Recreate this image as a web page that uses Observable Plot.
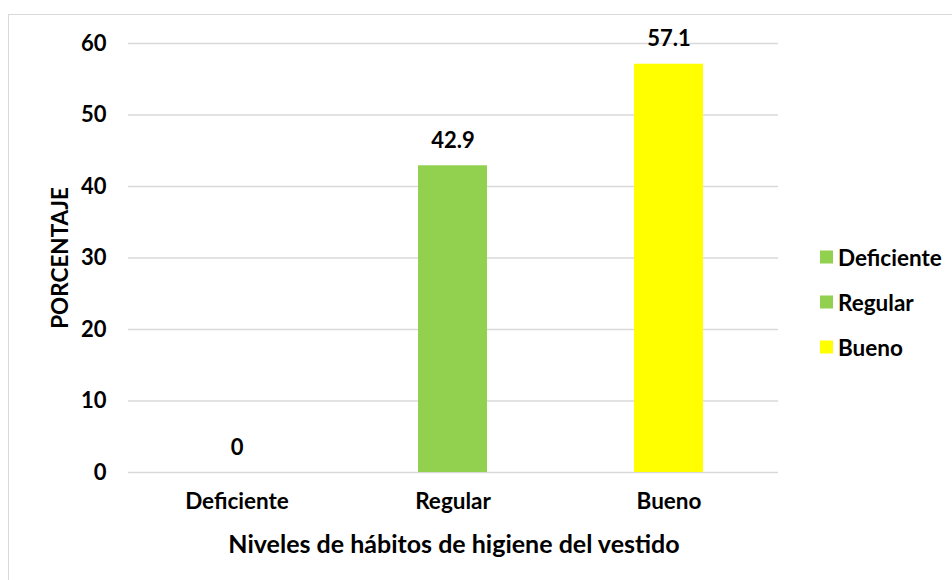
<!DOCTYPE html>
<html>
<head>
<meta charset="utf-8">
<script src="https://cdn.jsdelivr.net/npm/d3@7"></script>
<script src="https://cdn.jsdelivr.net/npm/@observablehq/plot@0.6"></script>
<style>
  html, body { margin: 0; padding: 0; background: #fff; }
  #wrap { position: relative; width: 952px; height: 580px; overflow: hidden; font-family: Lato, "Open Sans", sans-serif; font-weight: bold; color: #000; }
  #frame { position: absolute; left: 8px; top: 14px; width: 1000px; height: 1000px; border: 1.5px solid #d9d9d9; box-sizing: border-box; }
  #chart { position: absolute; left: 0; top: 0; }
  .ytitle { position: absolute; left: 59px; top: 258px; transform: translate(-50%, -50%) rotate(-90deg); font-size: 22.5px; white-space: nowrap; }
  .xtitle { position: absolute; left: 454px; top: 543px; transform: translate(-50%, -50%); font-size: 25px; white-space: nowrap; }
  #legend { position: absolute; left: 820px; top: 0; }
  .item { position: absolute; left: 0; display: flex; align-items: center; white-space: nowrap; font-size: 22.5px; transform: translateY(-50%); }
  .sw { width: 13px; height: 13px; margin-right: 5px; }
</style>
</head>
<body>
<div id="wrap">
  <div id="frame"></div>
  <div id="chart"></div>
  <div class="ytitle">PORCENTAJE</div>
  <div class="xtitle">Niveles de hábitos de higiene del vestido</div>
  <div id="legend"></div>
</div>
<script>
const categories = ["Deficiente", "Regular", "Bueno"];
const values = [0, 42.9, 57.1];
const colors = ["#92D050", "#92D050", "#FFFF00"];
const yTicks = [0, 10, 20, 30, 40, 50, 60];
const labels = ["0", "42.9", "57.1"];

const data = categories.map((c, i) => ({category: c, value: values[i], label: labels[i]}));

const plot = Plot.plot({
  width: 952,
  height: 580,
  marginLeft: 128,
  marginRight: 174,
  marginTop: 43,
  marginBottom: 108,
  style: {fontFamily: "Lato, 'Open Sans', sans-serif", fontWeight: "bold", fontSize: "22px", color: "#000", background: "transparent", overflow: "visible"},
  x: {domain: categories, paddingInner: 0.68, paddingOuter: 0.34, label: null},
  y: {domain: [0, 60], label: null},
  color: {domain: categories, range: colors},
  marks: [
    Plot.gridY(yTicks, {stroke: "#d9d9d9", strokeOpacity: 1, strokeWidth: 1.5}),
    Plot.barY(data, {x: "category", y: "value", fill: "category"}),
    Plot.text(data, {x: "category", y: "value", text: "label", dy: -25, fontSize: 22, fontWeight: "bold", fill: "#000"}),
    Plot.axisY(yTicks, {tickSize: 0, tickPadding: 22, fontSize: 22, fontWeight: "bold", fill: "#000", label: null}),
    Plot.axisX({tickSize: 0, tickPadding: 21, fontSize: 22.5, fontWeight: "bold", fill: "#000", label: null})
  ]
});
document.getElementById("chart").appendChild(plot);

const legendYs = [257, 302, 347];
const legend = document.getElementById("legend");
categories.forEach((c, i) => {
  const item = document.createElement("div");
  item.className = "item";
  item.style.top = legendYs[i] + "px";
  item.innerHTML = `<div class="sw" style="background:${colors[i]}"></div><span>${c}</span>`;
  legend.appendChild(item);
});
</script>
</body>
</html>
